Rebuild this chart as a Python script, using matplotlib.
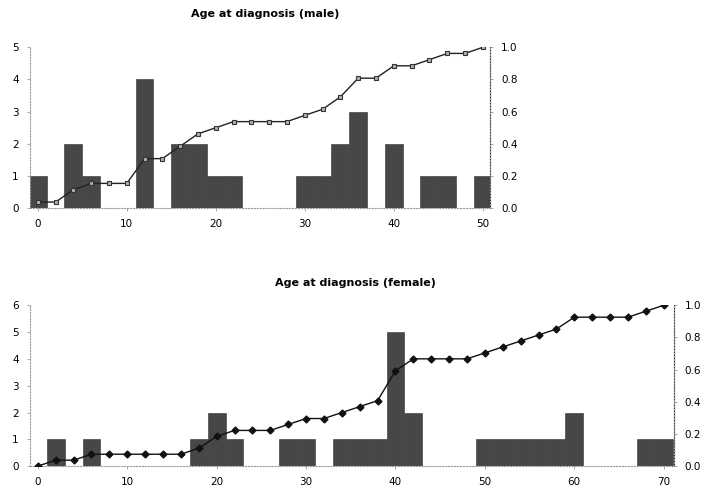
import matplotlib
matplotlib.use("Agg")
import matplotlib.pyplot as plt
import numpy as np

# male: counts per 2-year bin (bin centres), cumulative fraction
male_x = list(range(0, 52, 2))
male_counts = [1, 0, 2, 1, 0, 0, 4, 0, 2, 2, 1, 1, 0,
               0, 0, 1, 1, 2, 3, 0, 2, 0, 1, 1, 0, 1]
male_cum = [0.038, 0.038, 0.115, 0.154, 0.154, 0.154, 0.308, 0.308, 0.385,
            0.462, 0.500, 0.538, 0.538, 0.538, 0.538, 0.577, 0.615, 0.692,
            0.808, 0.808, 0.885, 0.885, 0.923, 0.962, 0.962, 1.000]

# female
female_x = list(range(0, 72, 2))
female_counts = [0, 1, 0, 1, 0, 0, 0, 0, 0, 1, 2, 1, 0, 0, 1, 1, 0, 1,
                 1, 1, 5, 2, 0, 0, 0, 1, 1, 1, 1, 1, 2, 0, 0, 0, 1, 1]
female_cum = [0.000, 0.037, 0.037, 0.074, 0.074, 0.074, 0.074, 0.074, 0.074,
              0.111, 0.185, 0.222, 0.222, 0.222, 0.259, 0.296, 0.296, 0.333,
              0.370, 0.407, 0.593, 0.667, 0.667, 0.667, 0.667, 0.704, 0.741,
              0.778, 0.815, 0.852, 0.926, 0.926, 0.926, 0.926, 0.963, 1.000]

bar_color = "#474747"
axis_color = "#9a9a9a"


def style(ax, ax2):
    ax.spines["top"].set_visible(False)
    ax2.spines["top"].set_visible(False)
    for s in ["left", "bottom"]:
        ax.spines[s].set_color(axis_color)
        ax.spines[s].set_linestyle(":")
    ax2.spines["right"].set_color(axis_color)
    ax2.spines["right"].set_linestyle(":")
    ax2.spines["left"].set_visible(False)
    ax2.spines["bottom"].set_visible(False)
    for a in (ax, ax2):
        a.tick_params(length=2, width=0.6, color=axis_color, labelsize=7.5, pad=6)


fig = plt.figure(figsize=(7.09, 4.98), dpi=100)

# top panel
ax = fig.add_axes([0.042, 0.582, 0.649, 0.323])
ax.bar(male_x, male_counts, width=2, color=bar_color, edgecolor=bar_color,
       linewidth=0.5)
ax.set_xlim(-0.9, 50.8)
ax.set_ylim(0, 5)
ax.set_yticks(range(0, 6))
ax.set_xticks(range(0, 51, 10))
ax2 = ax.twinx()
ax2.plot(male_x, male_cum, color="#222222", lw=1, marker="s", ms=3.5,
         mfc="#b0b0b0", mec="#333333", mew=0.8)
ax2.set_ylim(0, 1)
ax2.set_yticks(np.arange(0, 1.01, 0.2))
ax2.set_yticklabels(["0.0", "0.2", "0.4", "0.6", "0.8", "1.0"])
style(ax, ax2)
fig.text(0.374, 0.972, "Age at diagnosis (male)", ha="center", va="center",
         fontsize=8, fontweight="bold")

# bottom panel
bx = fig.add_axes([0.042, 0.064, 0.908, 0.323])
bx.bar(female_x, female_counts, width=2, color=bar_color, edgecolor=bar_color,
       linewidth=0.5)
bx.set_xlim(-0.9, 71.1)
bx.set_ylim(0, 6)
bx.set_yticks(range(0, 7))
bx.set_xticks(range(0, 71, 10))
bx2 = bx.twinx()
bx2.plot(female_x, female_cum, color="#111111", lw=1, marker="D", ms=3.5,
         mfc="#111111", mec="#111111")
bx2.set_ylim(0, 1)
bx2.set_yticks(np.arange(0, 1.01, 0.2))
bx2.set_yticklabels(["0.0", "0.2", "0.4", "0.6", "0.8", "1.0"])
style(bx, bx2)
fig.text(0.502, 0.432, "Age at diagnosis (female)", ha="center", va="center",
         fontsize=8, fontweight="bold")

fig.savefig("out.png", dpi=100)
